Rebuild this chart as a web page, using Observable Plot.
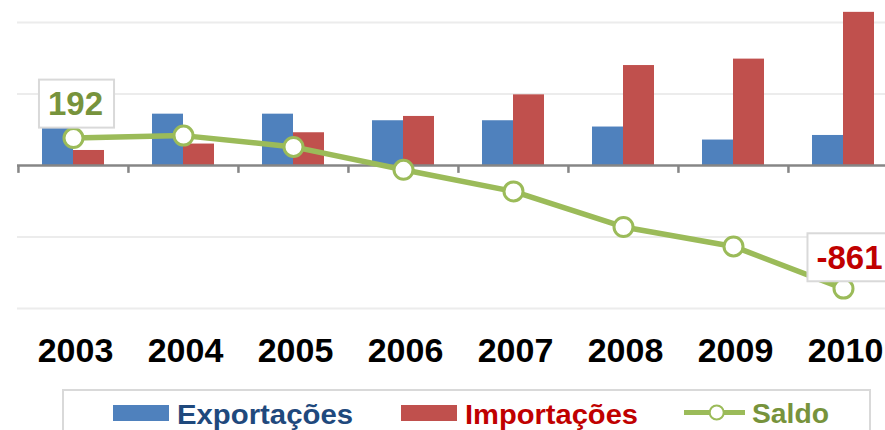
<!DOCTYPE html>
<html>
<head>
<meta charset="utf-8">
<script src="https://cdn.jsdelivr.net/npm/d3@7"></script>
<script src="https://cdn.jsdelivr.net/npm/@observablehq/plot@0.6"></script>
<style>
  html, body { margin: 0; padding: 0; background: #ffffff; }
  #chart svg { display: block; }
  #legend { display: block; }
</style>
</head>
<body>
<div id="chart"></div>
<svg id="legend" width="885" height="42"></svg>
<script>
const years = ["2003", "2004", "2005", "2006", "2007", "2008", "2009", "2010"];
const exportacoes = [297, 359, 359, 313, 313, 269, 178, 210];
const importacoes = [105, 150, 229, 343, 494, 699, 744, 1071];
const saldo = [192, 209, 130, -30, -181, -430, -566, -861];
const gridValues = [-1000, -500, 500, 1000];
const legendLabels = ["Exportações", "Importações", "Saldo"];

const colExp = "#4F81BD", colImp = "#C0504D", colSaldo = "#9BBB59";
const font = "'Liberation Sans', Arial, sans-serif";

const rows = years.map((year, i) => ({year, exp: exportacoes[i], imp: importacoes[i], saldo: saldo[i]}));
const firstLabel = [rows[0]];
const lastLabel = [rows[rows.length - 1]];

const chart = Plot.plot({
  width: 885,
  height: 388,
  marginLeft: 17,
  marginRight: 0,
  marginTop: 0,
  marginBottom: 51,
  style: {fontFamily: font, background: "#ffffff", overflow: "hidden"},
  x: {type: "band", domain: years, range: [17.5, 898.3], padding: 0, axis: null},
  y: {domain: [-1000, 1000], range: [308, 22], axis: null},
  marks: [
    Plot.ruleY(gridValues, {stroke: "#ececec", strokeWidth: 2}),
    Plot.barY(rows, {x: "year", y: "exp", fill: colExp, insetLeft: 24, insetRight: 55}),
    Plot.barY(rows, {x: "year", y: "imp", fill: colImp, insetLeft: 55, insetRight: 24}),
    Plot.ruleY([0], {stroke: "#868686", strokeWidth: 2.5}),
    Plot.ruleX(rows, {x: "year", y1: 0, y2: -55, dx: -55.05, stroke: "#868686", strokeWidth: 2.5}),
    Plot.axisX({anchor: "bottom", tickSize: 0, tickPadding: 0, fontSize: 34, fontWeight: "bold", fill: "#000000", dx: 2, label: null}),
    Plot.line(rows, {x: "year", y: "saldo", stroke: colSaldo, strokeWidth: 5.5}),
    Plot.dot(rows, {x: "year", y: "saldo", r: 9.5, fill: "#ffffff", stroke: colSaldo, strokeWidth: 3}),
    Plot.text(firstLabel, {x: "year", y: "saldo", text: d => String(d.saldo), dx: 2, dy: -33.5, fontSize: 33, fontWeight: "bold", fill: "#77933C"}),
    Plot.text(lastLabel, {x: "year", y: "saldo", text: d => String(d.saldo), dx: 6, dy: -30.4, fontSize: 33, fontWeight: "bold", fill: "#C00000"})
  ]
});
document.getElementById("chart").appendChild(chart);

// white boxes with grey border behind the two value labels
const labelTexts = new Set([String(saldo[0]), String(saldo[saldo.length - 1])]);
chart.querySelectorAll("text").forEach(t => {
  if (!labelTexts.has(t.textContent)) return;
  const b = t.getBBox();
  const r = document.createElementNS("http://www.w3.org/2000/svg", "rect");
  r.setAttribute("x", b.x - 9);
  r.setAttribute("y", b.y - 5.5);
  r.setAttribute("width", b.width + 20);
  r.setAttribute("height", b.height + 11);
  r.setAttribute("fill", "#ffffff");
  r.setAttribute("stroke", "#d9d9d9");
  r.setAttribute("stroke-width", 2);
  if (t.getAttribute("transform")) r.setAttribute("transform", t.getAttribute("transform"));
  t.parentNode.insertBefore(r, t);
});

// legend
const lg = d3.select("#legend");
lg.append("rect").attr("x", 63).attr("y", 2).attr("width", 807).attr("height", 60)
  .attr("fill", "#ffffff").attr("stroke", "#d9d9d9").attr("stroke-width", 2);
lg.append("rect").attr("x", 113).attr("y", 17).attr("width", 56).attr("height", 16).attr("fill", colExp);
lg.append("text").attr("x", 177).attr("y", 36).text(legendLabels[0])
  .attr("font-family", font).attr("font-weight", "bold").attr("font-size", 28).attr("fill", "#1F497D")
  .attr("textLength", 176).attr("lengthAdjust", "spacingAndGlyphs");
lg.append("rect").attr("x", 401).attr("y", 17).attr("width", 56).attr("height", 16).attr("fill", colImp);
lg.append("text").attr("x", 465).attr("y", 36).text(legendLabels[1])
  .attr("font-family", font).attr("font-weight", "bold").attr("font-size", 28).attr("fill", "#C00000")
  .attr("textLength", 173).attr("lengthAdjust", "spacingAndGlyphs");
lg.append("line").attr("x1", 684).attr("x2", 745).attr("y1", 24.5).attr("y2", 24.5)
  .attr("stroke", colSaldo).attr("stroke-width", 5);
lg.append("circle").attr("cx", 716.7).attr("cy", 24.5).attr("r", 7)
  .attr("fill", "#ffffff").attr("stroke", colSaldo).attr("stroke-width", 2);
lg.append("text").attr("x", 752).attr("y", 35).text(legendLabels[2])
  .attr("font-family", font).attr("font-weight", "bold").attr("font-size", 28).attr("fill", "#77933C")
  .attr("textLength", 77).attr("lengthAdjust", "spacingAndGlyphs");
</script>
</body>
</html>
